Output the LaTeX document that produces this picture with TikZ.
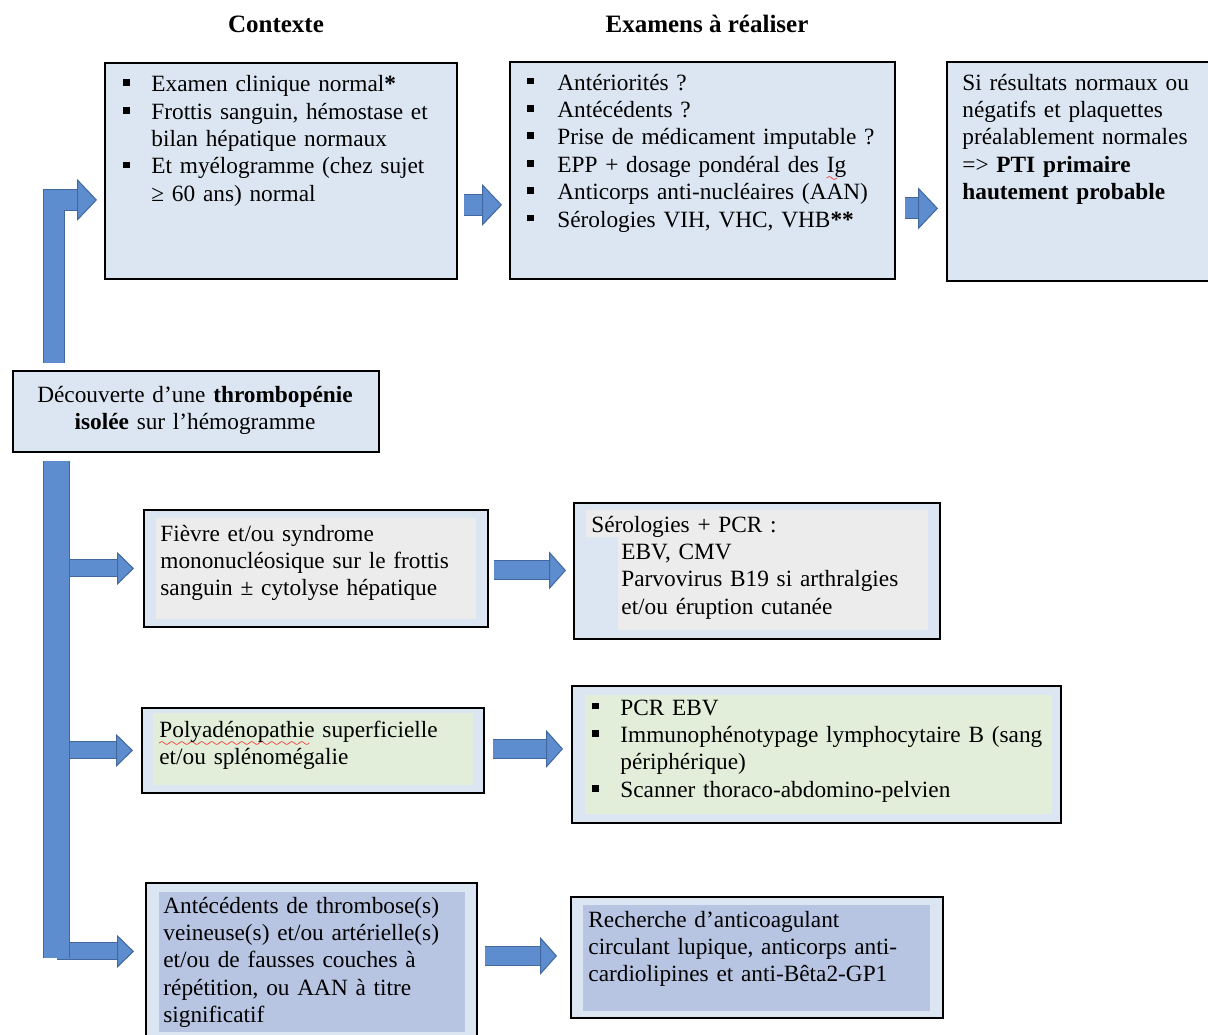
\documentclass[tikz,border=0pt]{standalone}
\usepackage{fontspec}
\setmainfont{Liberation Serif}
\usetikzlibrary{arrows.meta}

\definecolor{boxblue}{RGB}{220,230,242}
\definecolor{hlgrey}{RGB}{236,236,236}
\definecolor{hlgreen}{RGB}{227,238,218}
\definecolor{hlblue}{RGB}{183,196,226}
\definecolor{arrowfill}{RGB}{93,141,206}
\definecolor{arrowline}{RGB}{66,104,158}

\newcommand{\sqb}{\rule[2.8pt]{3.4pt}{3.4pt}}
\newcommand{\bul}{\makebox[14pt][l]{\sqb}}
\newcommand{\bulb}{\makebox[15pt][l]{\sqb}}
\font\wavefont=lasy6
\newcommand{\spellerr}[1]{\setbox0\hbox{#1}\rlap{\smash{\hbox to \wd0{\color{red}\leaders\hbox{\lower4.5pt\hbox{\wavefont\char58}}\hfill}}}#1}

\begin{document}
\begin{tikzpicture}[x=0.5pt,y=-0.5pt,
	box/.style={draw=black,line width=0.9pt,fill=boxblue,anchor=north west,inner sep=0pt},
	txt/.style={anchor=base west,inner sep=0pt,align=left,text width=#1,font=\fontsize{11.65}{13.7}\selectfont},
	txt/.default=235pt,
	hdr/.style={anchor=base,inner sep=0pt,font=\fontsize{12.5}{15}\selectfont\bfseries},
	bigarrow/.style={draw=arrowfill,line width=10pt,-{Triangle[length=10pt,width=21pt,fill=arrowfill,color=arrowline,line width=0.5pt]},
		preaction={draw=arrowline,line width=11pt,-,shorten >=9.5pt}},
	midarrow/.style={draw=arrowfill,line width=9pt,-{Triangle[length=8.5pt,width=19pt,fill=arrowfill,color=arrowline,line width=0.5pt]},
		preaction={draw=arrowline,line width=10pt,-,shorten >=8pt}},
	branch/.style={draw=arrowfill,line width=8pt,-{Triangle[length=8.5pt,width=16.5pt,fill=arrowfill,color=arrowline,line width=0.5pt]},
		preaction={draw=arrowline,line width=9pt,-,shorten >=8pt}},
	trunkbar/.style={draw=arrowfill,line width=12.5pt,preaction={draw=arrowline,line width=13.5pt}}]
	\useasboundingbox (0,0) rectangle (1208,1034);

	% column titles
	\node[hdr] (hctx) at (276,32) {Contexte};
	\node[hdr] (hexa) at (707,32) {Examens à réaliser};

	% top row
	\node[box,minimum width=176pt,minimum height=108pt] (ctx) at (104,62) {};
	\node[box,minimum width=192.5pt,minimum height=108.5pt] (exa) at (509,61) {};
	\node[box,minimum width=135pt,minimum height=109.5pt] (res) at (946,61) {};
	\node[box,minimum width=183pt,minimum height=40.5pt] (dec) at (12,370) {};

	% branches
	\node[box,minimum width=172pt,minimum height=58.5pt] (fev) at (143,509) {};
	\node[box,minimum width=183pt,minimum height=68pt] (sero) at (573,502) {};
	\node[box,minimum width=171pt,minimum height=42.5pt] (poly) at (141,707) {};
	\node[box,minimum width=244.5pt,minimum height=68.5pt] (pcr) at (571,685) {};
	\node[box,minimum width=165.5pt,minimum height=80pt] (atcd) at (145,882) {};
	\node[box,minimum width=186pt,minimum height=60.5pt] (lupi) at (570,896) {};

	% highlighted paragraphs
	\fill[hlgrey] ([shift={(13,9)}]fev.north west) rectangle ([shift={(-13,-9)}]fev.south east);
	\fill[hlgrey] ([shift={(13,8)}]sero.north west) -| ([shift={(-13,-10)}]sero.south east)
		-| ([shift={(45,35)}]sero.north west) -| ([shift={(13,8)}]sero.north west) -- cycle;
	\fill[hlgreen] ([shift={(12,6)}]poly.north west) rectangle ([shift={(-12,-9)}]poly.south east);
	\fill[hlgreen] ([shift={(14,10)}]pcr.north west) rectangle ([shift={(-10,-10)}]pcr.south east);
	\fill[hlblue] ([shift={(14,10)}]atcd.north west) rectangle ([shift={(-13,-12)}]atcd.south east);
	\fill[hlblue] ([shift={(13,9)}]lupi.north west) rectangle ([shift={(-14,-8)}]lupi.south east);

	% texts
	\node[txt] (ctx-t) at (123,91.7) {\bul Examen clinique normal\textbf{*}\\
		\bul Frottis sanguin, hémostase et\\ \hspace*{14pt}bilan hépatique normaux\\
		\bul Et myélogramme (chez sujet\\ \hspace*{14pt}≥ 60 ans) normal};
	\node[txt] (exa-t) at (527,90) {\bulb Antériorités ?\\ \bulb Antécédents ?\\
		\bulb Prise de médicament imputable ?\\ \bulb EPP + dosage pondéral des \spellerr{Ig}\\
		\bulb Anticorps anti-nucléaires (AAN)\\ \bulb Sérologies VIH, VHC, VHB\textbf{**}};
	\node[txt] (res-t) at (962,90) {Si résultats normaux ou\\ négatifs et plaquettes\\
		préalablement normales\\ => \textbf{PTI primaire}\\ \textbf{hautement probable}};
	\node[txt=180pt,anchor=base,align=center] (dec-t) at (195,402) {Découverte d’une \textbf{thrombopénie}\\
		\textbf{isolée} sur l’hémogramme};
	\node[txt] (fev-t) at (160,541) {Fièvre et/ou syndrome\\ mononucléosique sur le frottis\\
		sanguin ± cytolyse hépatique};
	\node[txt] (sero-t) at (591,532) {Sérologies + PCR :\\ \hspace*{15pt}EBV, CMV\\
		\hspace*{15pt}Parvovirus B19 si arthralgies\\ \hspace*{15pt}et/ou éruption cutanée};
	\node[txt] (poly-t) at (159,737.5) {\spellerr{Polyadénopathie} superficielle\\ et/ou splénomégalie};
	\node[txt] (pcr-t) at (592,715) {\bul PCR EBV\\ \bul Immunophénotypage lymphocytaire B (sang\\
		\hspace*{14pt}périphérique)\\ \bul Scanner thoraco-abdomino-pelvien};
	\node[txt] (atcd-t) at (163,913) {Antécédents de thrombose(s)\\ veineuse(s) et/ou artérielle(s)\\
		et/ou de fausses couches à\\ répétition, ou AAN à titre\\ significatif};
	\node[txt] (lupi-t) at (588,927) {Recherche d’anticoagulant\\ circulant lupique, anticorps anti-\\
		cardiolipines et anti-Bêta2-GP1};

	% arrows
	\draw[bigarrow] ([shift={(41.5,-7)}]dec.north west) |- ([shift={(-7,29)}]ctx.west);
	\draw[bigarrow] ([shift={(6,34)}]ctx.east) -- ([shift={(-7,34.5)}]exa.west);
	\draw[bigarrow] ([shift={(9,38)}]exa.east) -- ([shift={(-8,37)}]res.west);

	\coordinate (tktop) at ([shift={(44.5,8)}]dec.south west);
	\coordinate (tkbot) at (56.5,958);
	\coordinate (atcd-in) at ([shift={(-11,-11.5)}]atcd.west);
	\draw[branch] (tktop |- fev.west) -- ([shift={(-9,0)}]fev.west);
	\draw[branch] (tktop |- poly.west) -- ([shift={(-8,0)}]poly.west);
	\draw[branch] (tktop |- atcd-in) -- (atcd-in);
	\draw[trunkbar] (tktop) -- (tkbot);

	\draw[midarrow] ([shift={(5,2)}]fev.east) -- ([shift={(-7,-0.5)}]sero.west);
	\draw[midarrow] ([shift={(8,-1.5)}]poly.east) -- ([shift={(-8,-5.5)}]pcr.west);
	\draw[midarrow] ([shift={(7,-7)}]atcd.east) -- ([shift={(-13,-1.5)}]lupi.west);
\end{tikzpicture}
\end{document}
